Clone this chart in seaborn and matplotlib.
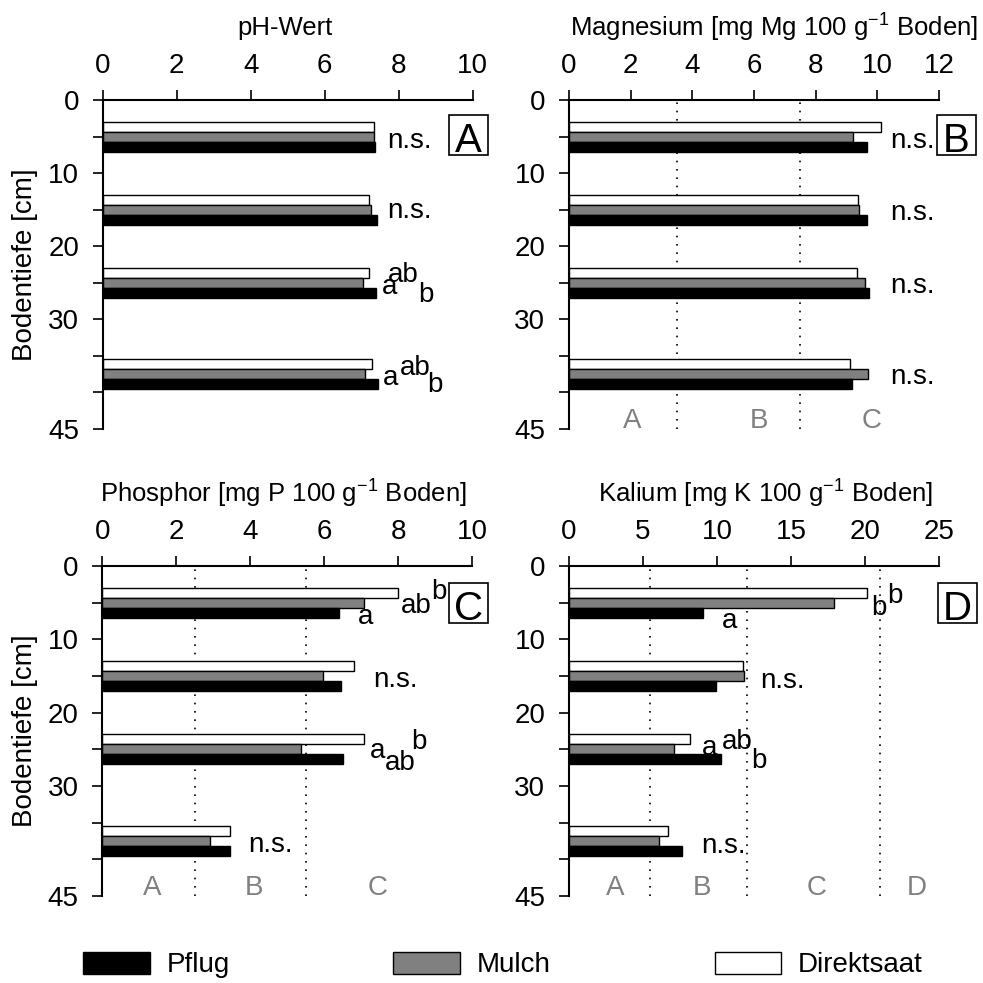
import matplotlib
matplotlib.use("Agg")
import matplotlib.pyplot as plt
import matplotlib.patches as mpatches
import seaborn as sns
import pandas as pd

# ---------------- data ----------------
depths = [5, 15, 25, 37.5]
treatments = ["Direktsaat", "Mulch", "Pflug"]

ph_pflug = [7.35, 7.40, 7.39, 7.43]
ph_mulch = [7.34, 7.24, 7.03, 7.10]
ph_direkt = [7.32, 7.20, 7.20, 7.27]

mg_pflug = [9.67, 9.68, 9.72, 9.18]
mg_mulch = [9.20, 9.42, 9.60, 9.70]
mg_direkt = [10.12, 9.38, 9.33, 9.11]

p_pflug = [6.41, 6.44, 6.50, 3.45]
p_mulch = [7.07, 5.97, 5.36, 2.91]
p_direkt = [7.99, 6.80, 7.06, 3.46]

k_pflug = [9.08, 9.95, 10.30, 7.66]
k_mulch = [17.90, 11.80, 7.09, 6.08]
k_direkt = [20.14, 11.76, 8.20, 6.69]

titles = ["pH-Wert",
          "Magnesium [mg Mg 100 g$^{-1}$ Boden]",
          "Phosphor [mg P 100 g$^{-1}$ Boden]",
          "Kalium [mg K 100 g$^{-1}$ Boden]"]
panel_letters = ["A", "B", "C", "D"]
xmax = [10, 12, 10, 25]
xstep = [2, 2, 2, 5]

# class boundaries and class labels (gray)
class_bounds = [[], [3.5, 7.5], [2.5, 5.5], [5.5, 12, 21]]
class_labels = [[], [("A", 2.05), ("B", 6.16), ("C", 9.8)],
                [("A", 1.36), ("B", 4.1), ("C", 7.43)],
                [("A", 3.1), ("B", 8.96), ("C", 16.7), ("D", 23.5)]]

# significance annotations (text, x, depth-baseline)
annots = [
    [("n.s.", 7.70, 6.6), ("n.s.", 7.70, 16.2),
     ("a", 7.54, 26.5), ("ab", 7.72, 24.85), ("b", 8.53, 27.6),
     ("a", 7.58, 39.0), ("ab", 8.04, 37.6), ("b", 8.76, 39.9)],
    [("n.s.", 10.41, 6.6), ("n.s.", 10.41, 16.4),
     ("n.s.", 10.41, 26.4), ("n.s.", 10.41, 38.8)],
    [("a", 6.92, 7.9), ("ab", 8.06, 6.37), ("b", 8.9, 4.55),
     ("n.s.", 7.31, 16.5),
     ("a", 7.22, 26.2), ("ab", 7.64, 27.8), ("b", 8.36, 24.9),
     ("n.s.", 3.95, 39.0)],
    [("a", 10.36, 8.4), ("b", 20.4, 6.7), ("b", 21.5, 5.0),
     ("n.s.", 12.9, 16.7),
     ("a", 8.96, 25.8), ("ab", 10.3, 25.0), ("b", 12.3, 27.5),
     ("n.s.", 8.9, 39.2)],
]

panels = [(ph_pflug, ph_mulch, ph_direkt), (mg_pflug, mg_mulch, mg_direkt),
          (p_pflug, p_mulch, p_direkt), (k_pflug, k_mulch, k_direkt)]

# ---------------- style ----------------
sns.set_style("ticks")
plt.rcParams["font.family"] = ["Liberation Sans", "DejaVu Sans"]
plt.rcParams["mathtext.default"] = "regular"
for k in ("text.color", "axes.labelcolor", "xtick.color", "ytick.color",
          "axes.edgecolor"):
    plt.rcParams[k] = "black"
FS = 20
TFS = 18.5
palette = {"Pflug": "black", "Mulch": "#808080", "Direktsaat": "white"}

fig = plt.figure(figsize=(9.83, 9.83), dpi=100)
W = 370 / 983
positions = [
    [102.7 / 983, 1 - 429 / 983, W, 329 / 983],
    [569 / 983, 1 - 429 / 983, W, 329 / 983],
    [102.3 / 983, 1 - 896 / 983, W, 330 / 983],
    [569 / 983, 1 - 896 / 983, W, 330 / 983],
]
title_x = [0.493, 0.554, 0.488, 0.532]
box_pos = [(0.936, 0.8328, 0.8430), (0.9946, 0.8328, 0.8430),
           (0.937, 0.8264, 0.836), (0.9965, 0.8264, 0.836)]

for i in range(4):
    ax = fig.add_axes(positions[i])
    pf, mu, di = panels[i]
    rows = []
    for d, a, b, c in zip(depths, pf, mu, di):
        rows.append({"depth": d, "value": a, "treat": "Pflug"})
        rows.append({"depth": d, "value": b, "treat": "Mulch"})
        rows.append({"depth": d, "value": c, "treat": "Direktsaat"})
    df = pd.DataFrame(rows)
    sns.barplot(data=df, x="value", y="depth", hue="treat",
                hue_order=treatments, palette=palette, orient="h",
                native_scale=True, width=0.41, edgecolor="black",
                linewidth=1.0, errorbar=None, legend=False, saturation=1,
                ax=ax, zorder=2)

    for xb in class_bounds[i]:
        ax.axvline(xb, color="black", lw=1.2, ls=(0, (1, 4)), zorder=1)
    for lab, xl in class_labels[i]:
        ax.text(xl, 44.8, lab, color="#808080", fontsize=FS,
                ha="center", va="baseline")
    for t, xa, ya in annots[i]:
        ax.text(xa, ya, t, fontsize=FS, ha="left", va="baseline", zorder=4)

    ax.set_xlim(0, xmax[i])
    ax.set_ylim(45, 0)
    ax.set_xticks(range(0, xmax[i] + 1, xstep[i]))
    ax.set_yticks(range(0, 50, 5))
    ax.set_yticklabels(["0", "", "10", "", "20", "", "30", "", "", "45"])
    ax.xaxis.tick_top()
    ax.spines["bottom"].set_visible(False)
    ax.spines["right"].set_visible(False)
    for s in ("top", "left"):
        ax.spines[s].set_linewidth(1.5)
        ax.spines[s].set_color("black")
    ax.tick_params(axis="x", labelsize=FS, length=7, width=1.2, pad=8,
                   top=True, bottom=False, direction="out", colors="black")
    ax.tick_params(axis="y", labelsize=FS, length=7, width=1.2, pad=10,
                   direction="out", colors="black")
    ax.set_xlabel("")
    ax.set_ylabel("")

    ax.text(title_x[i], 1.219, titles[i], transform=ax.transAxes,
            fontsize=TFS, ha="center", va="center")
    if i in (0, 2):
        ax.text(-0.21, 0.5, "Bodentiefe [cm]", transform=ax.transAxes,
                rotation=90, fontsize=FS, ha="center", va="center")

    bx, by, bl = box_pos[i]
    rect = mpatches.Rectangle((bx, by), 0.1054, 0.1216, transform=ax.transAxes,
                              facecolor="white", edgecolor="black", lw=1.2,
                              clip_on=False, zorder=5)
    ax.add_patch(rect)
    ax.text(bx + 0.0527, bl, panel_letters[i], transform=ax.transAxes,
            fontsize=29, ha="center", va="baseline", zorder=6)

handles = [mpatches.Patch(facecolor="black", edgecolor="black"),
           mpatches.Patch(facecolor="#808080", edgecolor="black"),
           mpatches.Patch(facecolor="white", edgecolor="black")]
fig.legend(handles=handles, labels=["Pflug", "Mulch", "Direktsaat"], ncol=3,
           loc="center left", bbox_to_anchor=(83 / 983, 1 - 965 / 983),
           frameon=False, handlelength=2.4, handleheight=0.83,
           handletextpad=0.6, columnspacing=5.9, borderpad=0,
           borderaxespad=0, fontsize=FS)

fig.savefig("out.png", dpi=100)
